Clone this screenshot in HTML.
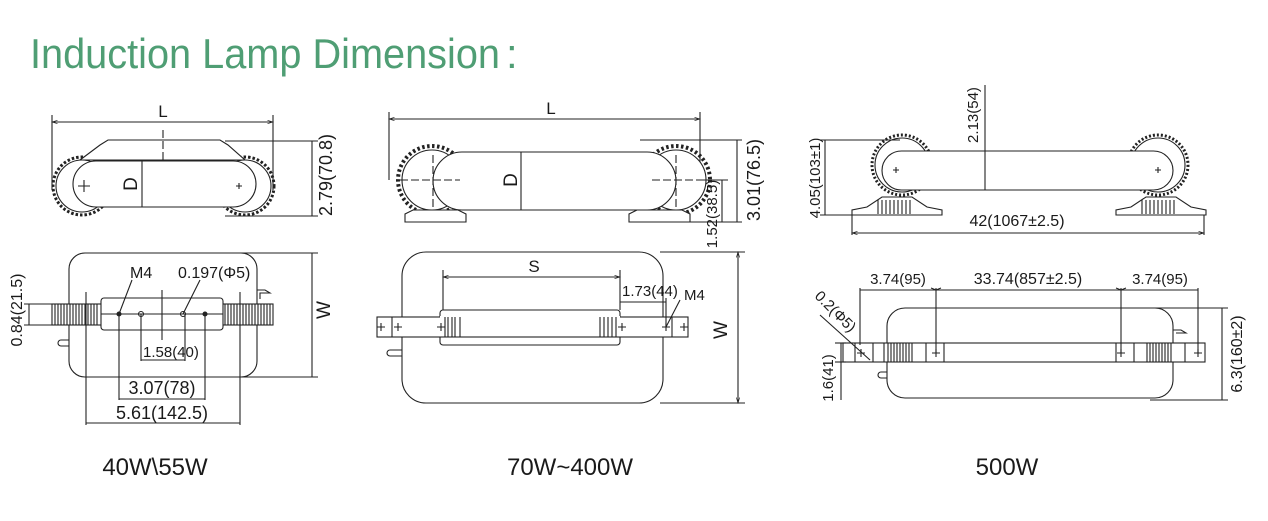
<!DOCTYPE html>
<html><head><meta charset="utf-8"><style>
html,body{margin:0;padding:0;background:#fff;width:1268px;height:521px;overflow:hidden}
svg{display:block}
text{font-family:"Liberation Sans",sans-serif;fill:#1a1a1a}
</style></head><body>
<svg width="1268" height="521" viewBox="0 0 1268 521" xmlns="http://www.w3.org/2000/svg">
<defs>
<marker id="a" viewBox="0 0 10 10" refX="10" refY="5" markerWidth="7" markerHeight="5" orient="auto-start-reverse"><path d="M0,2 L10,5 L0,8" fill="none" stroke="#222" stroke-width="1.2"/></marker>
</defs>
<text x="30" y="68" font-size="42" textLength="470" lengthAdjust="spacingAndGlyphs" style="fill:#4f9e74">Induction Lamp Dimension</text>
<text x="506" y="68" font-size="42" style="fill:#4f9e74">:</text>

<g fill="none" stroke="#222" stroke-width="1.1">
<!-- ===== Panel 1 top ===== -->
<line x1="52" y1="115" x2="52" y2="190"/><line x1="273" y1="115" x2="273" y2="190"/>
<line x1="52" y1="122" x2="273" y2="122" marker-start="url(#a)" marker-end="url(#a)"/>
<circle cx="82" cy="186" r="29" stroke-dasharray="2.5 2" stroke-width="3"/>
<circle cx="245" cy="186" r="29" stroke-dasharray="2.5 2" stroke-width="3"/>
<circle cx="82" cy="186" r="26"/><circle cx="245" cy="186" r="26"/>
<path d="M100,145 L108,140 L220,140 L228,145 L245,160 L80,160 Z" fill="#fff"/>
<rect x="73" y="161" width="183" height="46" rx="23" fill="#fff"/>
<line x1="142" y1="161" x2="142" y2="207"/>
<line x1="163" y1="130" x2="163" y2="160" stroke-dasharray="8 3"/>
<path d="M78,186 h12 M84,180 v12"/><path d="M236,186 h6 M239,183 v6"/>
<line x1="225" y1="141" x2="318" y2="141"/><line x1="225" y1="216" x2="318" y2="216"/>
<line x1="312" y1="141" x2="312" y2="216"/>
<!-- ===== Panel 1 bottom ===== -->
<rect x="69" y="253" width="188" height="124" rx="16" fill="#fff"/>
<rect x="52" y="304" width="221" height="21" fill="#fff"/>
<path d="M55,304v21M58,304v21M61,304v21M64,304v21M67,304v21M70,304v21M73,304v21M76,304v21M79,304v21M82,304v21M85,304v21M88,304v21M91,304v21M94,304v21M97,304v21M225,304v21M228,304v21M231,304v21M234,304v21M237,304v21M240,304v21M243,304v21M246,304v21M249,304v21M252,304v21M255,304v21M258,304v21M261,304v21M264,304v21M267,304v21M270,304v21"/>
<rect x="101" y="298" width="122" height="32" rx="3" fill="#fff"/>
<line x1="101" y1="314" x2="223" y2="314"/>
<circle cx="119" cy="314" r="2" fill="#222"/><circle cx="141" cy="314" r="2.5"/><circle cx="183" cy="314" r="2.5"/><circle cx="205" cy="314" r="2" fill="#222"/>
<line x1="162" y1="290" x2="162" y2="340"/>
<line x1="24" y1="304" x2="56" y2="304"/><line x1="24" y1="325" x2="56" y2="325"/><line x1="29" y1="304" x2="29" y2="325"/>
<line x1="225" y1="253" x2="318" y2="253"/><line x1="225" y1="377" x2="318" y2="377"/>
<line x1="312" y1="253" x2="312" y2="377"/>
<line x1="141" y1="314" x2="141" y2="361"/><line x1="185" y1="314" x2="185" y2="361"/><line x1="141" y1="360" x2="185" y2="360"/>
<line x1="119" y1="314" x2="119" y2="400"/><line x1="205" y1="314" x2="205" y2="400"/><line x1="119" y1="399" x2="205" y2="399"/>
<line x1="86" y1="292" x2="86" y2="425"/><line x1="240" y1="292" x2="240" y2="425"/><line x1="86" y1="423" x2="240" y2="423"/>
<line x1="132" y1="280" x2="119" y2="314"/><line x1="200" y1="280" x2="183" y2="314"/>
<path d="M257,290 h8 l5,3 h-10 v6"/><path d="M69,340 h-8 a3,3 0 0 0 0,6 h8"/>

<!-- ===== Panel 2 top ===== -->
<line x1="389" y1="112" x2="389" y2="180"/><line x1="700" y1="112" x2="700" y2="180"/>
<line x1="389" y1="119" x2="700" y2="119" marker-start="url(#a)" marker-end="url(#a)"/>
<circle cx="432" cy="180" r="34" stroke-dasharray="2.5 2.5" stroke-width="4"/>
<circle cx="676" cy="180" r="34" stroke-dasharray="2.5 2.5" stroke-width="4"/>
<circle cx="432" cy="180" r="30" fill="#fff"/><circle cx="676" cy="180" r="30" fill="#fff"/>
<rect x="433" y="152" width="243" height="58" rx="29" fill="#fff"/>
<path d="M405,222 v-8 l8,-4 h45 l8,4 v8 Z" fill="#fff"/><path d="M629,222 v-8 l8,-4 h45 l8,4 v8 Z" fill="#fff"/>
<line x1="521" y1="152" x2="521" y2="210"/>
<path d="M400,180 h60 M433,155 v55 M652,180 h60 M676,155 v55" stroke-dasharray="8 3"/>
<line x1="640" y1="140" x2="742" y2="140"/><line x1="680" y1="222" x2="742" y2="222"/><line x1="700" y1="180" x2="728" y2="180"/>
<line x1="737" y1="140" x2="737" y2="222"/><line x1="722" y1="180" x2="722" y2="222"/>
<!-- ===== Panel 2 bottom ===== -->
<rect x="402" y="252" width="261" height="151" rx="24" fill="#fff"/>
<rect x="440" y="310" width="180" height="35" rx="3" fill="#fff"/>
<rect x="377" y="317" width="311" height="20" fill="#fff"/>
<line x1="440" y1="317" x2="620" y2="317" stroke="#fff" stroke-width="2"/>
<line x1="392" y1="317" x2="392" y2="337"/><line x1="672" y1="317" x2="672" y2="337"/>
<path d="M445,317v20M448,317v20M452,317v20M455,317v20M460,317v20 M600,317v20M604,317v20M608,317v20M612,317v20M616,317v20"/>
<path d="M377,327h8M381,323v8 M394,327h8M398,323v8 M437,327h8M441,323v8 M618,327h8M622,323v8 M662,327h8M666,323v8 M680,327h8M684,323v8"/>
<line x1="443" y1="277" x2="620" y2="277" marker-start="url(#a)" marker-end="url(#a)"/>
<line x1="443" y1="270" x2="443" y2="310"/><line x1="620" y1="270" x2="620" y2="310"/>
<line x1="620" y1="302" x2="666" y2="302"/><line x1="666" y1="298" x2="666" y2="327"/>
<line x1="680" y1="300" x2="666" y2="327"/>
<line x1="660" y1="252" x2="745" y2="252"/><line x1="660" y1="403" x2="745" y2="403"/>
<line x1="738" y1="252" x2="738" y2="403" marker-start="url(#a)" marker-end="url(#a)"/>
<path d="M402,350 h-12 a3,3 0 0 0 0,6 h12"/>

<!-- ===== Panel 3 top ===== -->
<circle cx="902" cy="165" r="30" stroke-dasharray="2 2" stroke-width="3"/>
<circle cx="1158" cy="165" r="30" stroke-dasharray="2 2" stroke-width="3"/>
<circle cx="902" cy="165" r="27" fill="#fff"/><circle cx="1158" cy="165" r="27" fill="#fff"/>
<path d="M852,215 v-5 l15,-3 l15,-10 h30 l15,10 l15,3 v5 Z" fill="#fff"/>
<path d="M1116,215 v-5 l15,-3 l15,-10 h30 l15,10 l15,3 v5 Z" fill="#fff"/>
<path d="M878,200v14M882,200v14M886,200v14M890,200v14M894,200v14M898,200v14M902,200v14M906,200v14M910,200v14 M1142,200v14M1146,200v14M1150,200v14M1154,200v14M1158,200v14M1162,200v14M1166,200v14M1170,200v14M1174,200v14"/>
<rect x="882" y="151" width="291" height="39" rx="19.5" fill="#fff"/>
<path d="M893,170h6M896,167v6 M1155,170h6M1158,167v6"/>
<line x1="985" y1="85" x2="985" y2="190"/>
<line x1="820" y1="140" x2="900" y2="140"/><line x1="820" y1="215" x2="855" y2="215"/>
<line x1="825" y1="140" x2="825" y2="215"/>
<line x1="852" y1="215" x2="852" y2="235"/><line x1="1204" y1="215" x2="1204" y2="235"/>
<line x1="852" y1="233" x2="1204" y2="233" marker-start="url(#a)" marker-end="url(#a)"/>
<!-- ===== Panel 3 bottom ===== -->
<rect x="887" y="308" width="286" height="90" rx="18" fill="#fff"/>
<rect x="843" y="343" width="362" height="19" fill="#fff"/>
<path d="M855,343v19M873,343v19M884,343v19M888,343v19M891,343v19M894,343v19M897,343v19M900,343v19M903,343v19M906,343v19M909,343v19M912,343v19M926,343v19M944,343v19 M1116,343v19M1134,343v19M1147,343v19M1150,343v19M1153,343v19M1156,343v19M1159,343v19M1162,343v19M1165,343v19M1168,343v19M1171,343v19M1185,343v19"/>
<path d="M932,353h8M936,349v8 M1117,353h8M1121,349v8 M1194,353h8M1198,349v8 M857,353h8M861,349v8"/>
<line x1="860" y1="288" x2="860" y2="345"/><line x1="936" y1="288" x2="936" y2="353"/>
<line x1="1121" y1="288" x2="1121" y2="353"/><line x1="1198" y1="288" x2="1198" y2="353"/>
<line x1="860" y1="290" x2="1198" y2="290"/>
<path d="M936,290 l-5,-2 M936,290 l5,-2 M1121,290 l-5,-2 M1121,290 l5,-2"/>
<line x1="1150" y1="308" x2="1228" y2="308"/><line x1="1150" y1="400" x2="1228" y2="400"/>
<line x1="1222" y1="308" x2="1222" y2="400"/>
<line x1="835" y1="343" x2="846" y2="343"/><line x1="835" y1="362" x2="846" y2="362"/><line x1="841" y1="343" x2="841" y2="400"/>
<line x1="820" y1="315" x2="870" y2="360"/>
<path d="M1173,330 h8 l5,3 h-10"/><path d="M887,372 h-6 a3,3 0 0 0 0,6 h6"/>
</g>

<g font-size="17">
<text x="163" y="117" text-anchor="middle">L</text>
<text transform="translate(137,184) rotate(-90)" text-anchor="middle" font-size="19">D</text>
<text transform="translate(332,175) rotate(-90)" text-anchor="middle" font-size="18">2.79(70.8)</text>
<text x="130" y="278" font-size="16">M4</text>
<text x="178" y="278" font-size="16">0.197(Φ5)</text>
<text transform="translate(330,310) rotate(-90)" text-anchor="middle" font-size="19">W</text>
<text transform="translate(22,310) rotate(-90)" text-anchor="middle" font-size="16">0.84(21.5)</text>
<text x="143" y="357" font-size="15">1.58(40)</text>
<text x="162" y="394" text-anchor="middle" font-size="18">3.07(78)</text>
<text x="162" y="419" text-anchor="middle" font-size="18">5.61(142.5)</text>

<text x="551" y="114" text-anchor="middle">L</text>
<text transform="translate(517,180) rotate(-90)" text-anchor="middle" font-size="19">D</text>
<text transform="translate(760,180) rotate(-90)" text-anchor="middle" font-size="18">3.01(76.5)</text>
<text transform="translate(717,214) rotate(-90)" text-anchor="middle" font-size="15">1.52(38.5)</text>
<text x="534" y="272" text-anchor="middle">S</text>
<text x="622" y="296" font-size="15">1.73(44)</text>
<text x="684" y="300" font-size="15">M4</text>
<text transform="translate(727,330) rotate(-90)" text-anchor="middle" font-size="19">W</text>

<text transform="translate(978,115) rotate(-90)" text-anchor="middle" font-size="15">2.13(54)</text>
<text transform="translate(820,178) rotate(-90)" text-anchor="middle" font-size="15">4.05(103±1)</text>
<text x="1017" y="226" text-anchor="middle" font-size="16">42(1067±2.5)</text>
<text x="898" y="284" text-anchor="middle" font-size="15">3.74(95)</text>
<text x="1028" y="284" text-anchor="middle" font-size="16">33.74(857±2.5)</text>
<text x="1160" y="284" text-anchor="middle" font-size="15">3.74(95)</text>
<text transform="translate(1242,354) rotate(-90)" text-anchor="middle" font-size="16">6.3(160±2)</text>
<text transform="translate(833,378) rotate(-90)" text-anchor="middle" font-size="15">1.6(41)</text>
<text transform="translate(832,315) rotate(45)" text-anchor="middle" font-size="15">0.2(Φ5)</text>
</g>
<g font-size="24">
<text x="155" y="475" text-anchor="middle">40W\55W</text>
<text x="570" y="475" text-anchor="middle">70W~400W</text>
<text x="1007" y="475" text-anchor="middle">500W</text>
</g>
</svg>
</body></html>
